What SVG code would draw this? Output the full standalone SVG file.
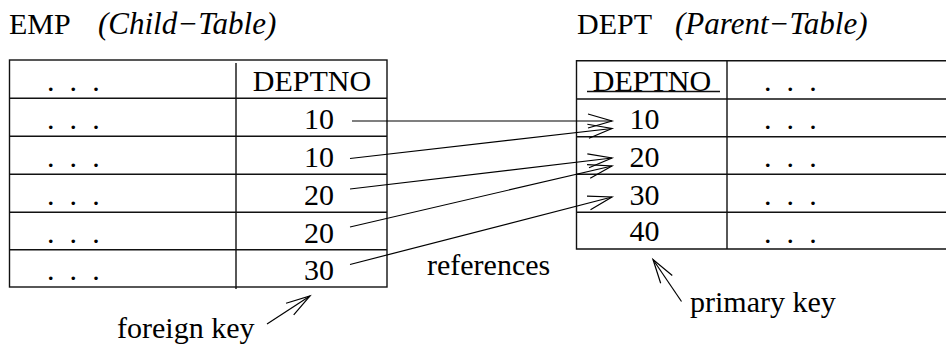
<svg xmlns="http://www.w3.org/2000/svg" width="946" height="346" viewBox="0 0 946 346">
<style>
text{font-family:'Liberation Serif','Tinos','Times New Roman','Nimbus Roman','DejaVu Serif',serif;font-size:30px;fill:#000}
.it{font-style:italic;font-size:31px}
.dots{letter-spacing:3.8px}
.mid{text-anchor:middle}
.grid{stroke:#111;stroke-width:1.4;fill:none}
.conn{stroke:#000;stroke-width:1.2;fill:none;marker-end:url(#ah)}
</style>
<defs>
<marker id="ah" markerUnits="userSpaceOnUse" markerWidth="30" markerHeight="20" viewBox="-26 -10 28 20" refX="0" refY="0" orient="auto">
<path d="M-24,-7 L0,0 L-24,7" fill="none" stroke="#000" stroke-width="1.2"/>
</marker>
</defs>

<g id="emp-title">
<text x="9" y="34">EMP</text>
<text class="it" x="98" y="34">(Child−Table)</text>
</g>

<g id="dept-title">
<text x="577" y="34">DEPT</text>
<text class="it" x="675" y="34">(Parent−Table)</text>
</g>

<g id="emp-table">
<rect class="grid" x="9.5" y="60" width="377.5" height="227"/>
<path class="grid" d="M9.5,98.3H387 M9.5,136.3H387 M9.5,174.3H387 M9.5,212.3H387 M9.5,249.7H387 M236,63V289"/>
<text class="dots" x="47" y="91">. . .</text>
<text class="dots" x="47" y="129">. . .</text>
<text class="dots" x="47" y="167">. . .</text>
<text class="dots" x="47" y="205">. . .</text>
<text class="dots" x="47" y="243">. . .</text>
<text class="dots" x="47" y="280">. . .</text>
<text class="mid" x="312" y="91">DEPTNO</text>
<text class="mid" x="319" y="129">10</text>
<text class="mid" x="319" y="167">10</text>
<text class="mid" x="319" y="205">20</text>
<text class="mid" x="319" y="243">20</text>
<text class="mid" x="319" y="280">30</text>
</g>

<g id="dept-table">
<path class="grid" d="M948,60.7H576.5V249H948 M576.5,99H948 M576.5,136.7H948 M576.5,174.3H948 M576.5,212.3H948 M727,60.7V249"/>
<text class="mid" x="652" y="91">DEPTNO</text>
<path class="grid" d="M587,91.5H720"/>
<text class="mid" x="644.5" y="129">10</text>
<text class="mid" x="644.5" y="167">20</text>
<text class="mid" x="644.5" y="205">30</text>
<text class="mid" x="644.5" y="241">40</text>
<text class="dots" x="764" y="91">. . .</text>
<text class="dots" x="764" y="129">. . .</text>
<text class="dots" x="764" y="167">. . .</text>
<text class="dots" x="764" y="205">. . .</text>
<text class="dots" x="764" y="243">. . .</text>
</g>

<g id="labels">
<text x="427" y="275">references</text>
<text x="117" y="338">foreign key</text>
<text x="690" y="312">primary key</text>
</g>

<g id="connectors">
<line class="conn" x1="352" y1="121" x2="612" y2="121"/>
<line class="conn" x1="350" y1="158.5" x2="612" y2="128.5"/>
<line class="conn" x1="350" y1="189" x2="612" y2="158"/>
<line class="conn" x1="350" y1="227" x2="612" y2="166"/>
<line class="conn" x1="350" y1="264.5" x2="612" y2="197"/>
<line class="conn" x1="267" y1="324" x2="310" y2="296"/>
<line class="conn" x1="681.5" y1="301.5" x2="653" y2="259.5"/>
</g>
</svg>
